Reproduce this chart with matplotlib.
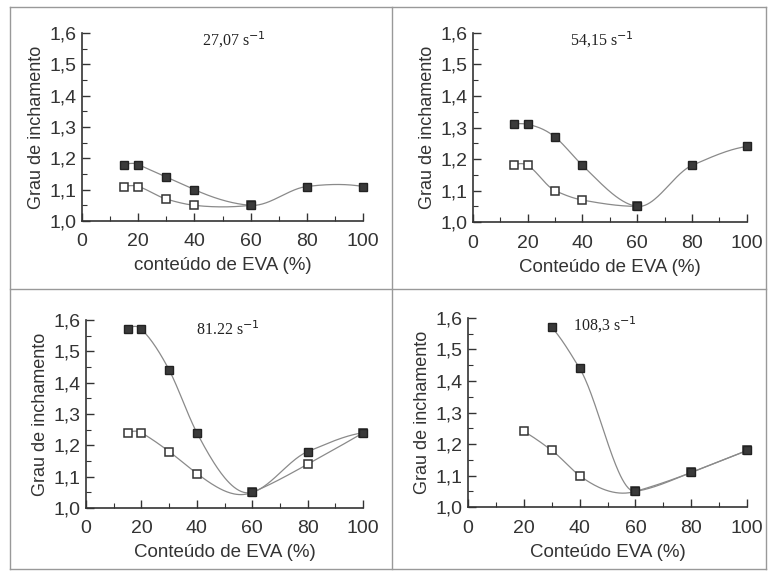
import numpy as np
import matplotlib
matplotlib.use("Agg")
import matplotlib.pyplot as plt
from matplotlib.ticker import MultipleLocator, FuncFormatter
from matplotlib.lines import Line2D

# shear rates (panel titles)
titles = ["27,07 s$^{-1}$", "54,15 s$^{-1}$", "81.22 s$^{-1}$", "108,3 s$^{-1}$"]
xlabels = ["conteúdo de EVA (%)", "Conteúdo de EVA (%)",
           "Conteúdo de EVA (%)", "Conteúdo EVA (%)"]

# filled squares
x_fill = [[15, 20, 30, 40, 60, 80, 100],
          [15, 20, 30, 40, 60, 80, 100],
          [15, 20, 30, 40, 60, 80, 100],
          [30, 40, 60, 80, 100]]
y_fill = [[1.18, 1.18, 1.14, 1.10, 1.05, 1.11, 1.11],
          [1.31, 1.31, 1.27, 1.18, 1.05, 1.18, 1.24],
          [1.57, 1.57, 1.44, 1.24, 1.05, 1.18, 1.24],
          [1.57, 1.44, 1.05, 1.11, 1.18]]

# open squares
x_open = [[15, 20, 30, 40, 60],
          [15, 20, 30, 40, 60],
          [15, 20, 30, 40, 60, 80, 100],
          [20, 30, 40, 60, 80, 100]]
y_open = [[1.11, 1.11, 1.07, 1.05, 1.05],
          [1.18, 1.18, 1.10, 1.07, 1.05],
          [1.24, 1.24, 1.18, 1.11, 1.05, 1.14, 1.24],
          [1.24, 1.18, 1.10, 1.05, 1.11, 1.18]]


def smooth(x, y, n=200):
    # Akima-type cubic through the points, only for drawing the line
    x = np.asarray(x, float)
    y = np.asarray(y, float)
    m = np.diff(y) / np.diff(x)
    m = np.concatenate([[3 * m[0] - 2 * m[1], 2 * m[0] - m[1]], m,
                        [2 * m[-1] - m[-2], 3 * m[-1] - 2 * m[-2]]])
    t = np.zeros(len(x))
    for i in range(len(x)):
        w1 = abs(m[i + 3] - m[i + 2])
        w2 = abs(m[i + 1] - m[i])
        if w1 + w2 < 1e-12:
            t[i] = 0.5 * (m[i + 1] + m[i + 2])
        else:
            t[i] = (w1 * m[i + 1] + w2 * m[i + 2]) / (w1 + w2)
    xs = np.linspace(x[0], x[-1], n)
    j = np.clip(np.searchsorted(x, xs) - 1, 0, len(x) - 2)
    h = x[j + 1] - x[j]
    s = (xs - x[j]) / h
    h00 = 2 * s ** 3 - 3 * s ** 2 + 1
    h10 = s ** 3 - 2 * s ** 2 + s
    h01 = -2 * s ** 3 + 3 * s ** 2
    h11 = s ** 3 - s ** 2
    ys = h00 * y[j] + h10 * h * t[j] + h01 * y[j + 1] + h11 * h * t[j + 1]
    return xs, ys


fig = plt.figure(figsize=(7.7, 5.77), dpi=100)

rects = [[0.1065, 0.617, 0.365, 0.326],
         [0.614, 0.615, 0.356, 0.328],
         [0.1117, 0.1196, 0.36, 0.326],
         [0.608, 0.121, 0.362, 0.328]]
title_pos = [(0.54, 1.02), (0.47, 1.02), (0.51, 1.0), (0.49, 1.02)]

dec = FuncFormatter(lambda v, p: ("%.1f" % v).replace(".", ","))

for i in range(4):
    ax = fig.add_axes(rects[i])
    xs, ys = smooth(x_open[i], y_open[i])
    ax.plot(xs, ys, color="#8a8a8a", lw=0.9, zorder=2)
    xs, ys = smooth(x_fill[i], y_fill[i])
    ax.plot(xs, ys, color="#8a8a8a", lw=0.9, zorder=2)
    ax.plot(x_open[i], y_open[i], ls="none", marker="s", ms=6,
            mfc="white", mec="#333333", mew=1.1, zorder=3, clip_on=False)
    ax.plot(x_fill[i], y_fill[i], ls="none", marker="s", ms=6,
            mfc="#3a3a3a", mec="#222222", mew=1.0, zorder=4, clip_on=False)

    ax.set_xlim(0, 100)
    ax.set_ylim(1.0, 1.6)
    ax.xaxis.set_major_locator(MultipleLocator(20))
    ax.xaxis.set_minor_locator(MultipleLocator(10))
    ax.yaxis.set_major_locator(MultipleLocator(0.1))
    ax.yaxis.set_minor_locator(MultipleLocator(0.05))
    ax.yaxis.set_major_formatter(dec)
    for s in ["top", "right"]:
        ax.spines[s].set_visible(False)
    for s in ["left", "bottom"]:
        ax.spines[s].set_color("#333333")
        ax.spines[s].set_linewidth(1.2)
    ax.tick_params(which="both", direction="in", colors="#333333",
                   labelsize=14, labelcolor="#333333")
    ax.tick_params(which="major", length=6, width=1.0)
    ax.tick_params(which="minor", length=3.5, width=0.8)
    ax.tick_params(axis="x", pad=9)
    ax.tick_params(axis="y", pad=4)
    for lab in ax.get_xticklabels() + ax.get_yticklabels():
        lab.set_family("Liberation Sans")
    ax.set_xlabel(xlabels[i], fontsize=13.5, family="Liberation Sans",
                  color="#333333", labelpad=5)
    ax.set_ylabel("Grau de inchamento", fontsize=13, family="Liberation Sans",
                  color="#333333", labelpad=3)
    ax.text(title_pos[i][0], title_pos[i][1], titles[i], transform=ax.transAxes,
            ha="center", va="top", fontsize=11.5, family="Liberation Serif",
            color="#222222")

# panel frames
W, H = 770.0, 577.0
def fl(x0, y0, x1, y1):
    fig.add_artist(Line2D([x0 / W, x1 / W], [1 - y0 / H, 1 - y1 / H],
                          color="#999999", lw=1.0))

fl(10, 7, 766, 7)
fl(10, 569, 766, 569)
fl(10, 7, 10, 569)
fl(766, 7, 766, 569)
fl(10, 289, 766, 289)
fl(392, 7, 392, 569)

fig.savefig("out.png", dpi=100, facecolor="white")
